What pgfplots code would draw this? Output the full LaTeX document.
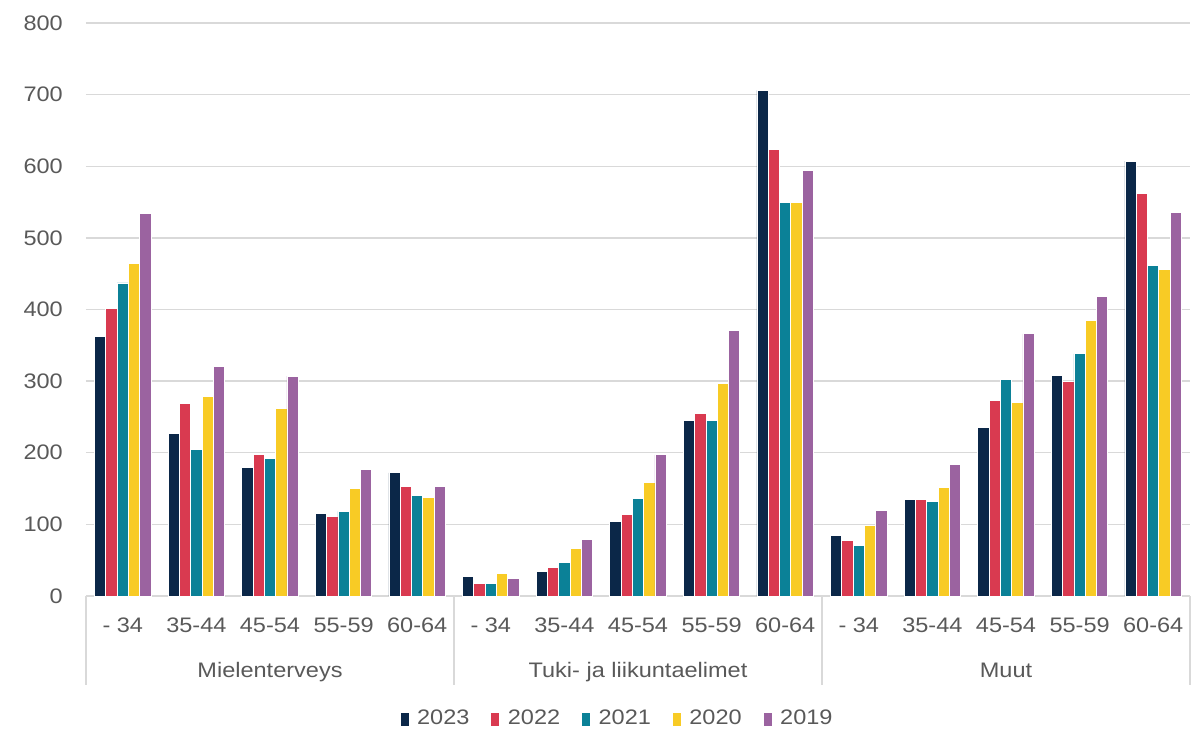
\documentclass[border=0pt]{standalone}
\usepackage{fontspec}
\setmainfont{Liberation Sans}[FakeStretch=1.12]
\usepackage{pgfplots}
\pgfplotsset{compat=1.18}
\usepackage{pgfplotstable}
\definecolor{c23}{HTML}{0B2748}
\definecolor{c22}{HTML}{D93A50}
\definecolor{c21}{HTML}{0B8197}
\definecolor{c20}{HTML}{F8CB25}
\definecolor{c19}{HTML}{9B63A0}
\definecolor{txt}{HTML}{595959}
\definecolor{grd}{HTML}{D9D9D9}
\pgfplotstableread{
x y23 y22 y21 y20 y19
0 363 402 437 464 534
1 227 269 204 278 320
2 179 198 192 262 307
3 115 111 118 150 176
4 172 153 140 137 153
5 27 18 18 31 24
6 34 40 47 66 79
7 104 114 136 158 197
8 245 255 245 297 371
9 706 623 549 549 594
10 84 78 71 99 119
11 135 135 132 151 184
12 235 273 302 270 366
13 308 299 338 385 418
14 607 562 462 456 536
}\data
\newcommand{\fs}{\fontsize{21}{25}\selectfont}
\begin{document}
\begin{tikzpicture}
\useasboundingbox (-86pt,-135pt) rectangle (1118pt,596pt);
\begin{axis}[
  scale only axis,
  width=1104pt, height=573pt,
  xmin=-0.5, xmax=14.5, ymin=0, ymax=800,
  ytick={0,100,...,800},
  xtick={0,...,14},
  xticklabels={- 34,35-44,45-54,55-59,60-64,- 34,35-44,45-54,55-59,60-64,- 34,35-44,45-54,55-59,60-64},
  ymajorgrids, grid style={grd, line width=1.3pt},
  axis line style={draw=none},
  major tick length=0pt,
  /pgf/number format/assume math mode=true,
  tick label style={font=\fs, text=txt},
  xticklabel style={anchor=base, inner sep=0pt, yshift=-36pt},
  yticklabel style={anchor=east, inner sep=0pt, xshift=-23pt},
  ybar=0pt, bar width=11.3pt,
  every axis plot/.append style={draw=white, line width=0.9pt},
  clip=false,
  legend columns=5,
  legend style={at={(0.4815,-0.213)}, anchor=center, draw=none, fill=none,
    font=\fs, text=txt,
    /tikz/every even column/.append style={column sep=20pt},
    nodes={inner sep=2pt}},
  legend image code/.code={\fill[#1, draw=none] (0pt,-7.5pt) rectangle (8pt,5pt); \path (14pt,0pt);},
]
\addplot[fill=c23] table[x=x, y=y23] {\data};
\addplot[fill=c22] table[x=x, y=y22] {\data};
\addplot[fill=c21] table[x=x, y=y21] {\data};
\addplot[fill=c20] table[x=x, y=y20] {\data};
\addplot[fill=c19] table[x=x, y=y19] {\data};
\legend{2023,2022,2021,2020,2019}
\pgfplotsinvokeforeach{-0.5,4.5,9.5,14.5}{
  \draw[grd, line width=1.3pt] (axis cs:#1,0) -- ([yshift=-89pt]axis cs:#1,0);
}
\node[anchor=base, font=\fs, text=txt] at ([yshift=-81pt]axis cs:2,0) {Mielenterveys};
\node[anchor=base, font=\fs, text=txt] at ([yshift=-81pt]axis cs:7,0) {Tuki- ja liikuntaelimet};
\node[anchor=base, font=\fs, text=txt] at ([yshift=-81pt]axis cs:12,0) {Muut};
\end{axis}
\end{tikzpicture}
\end{document}
